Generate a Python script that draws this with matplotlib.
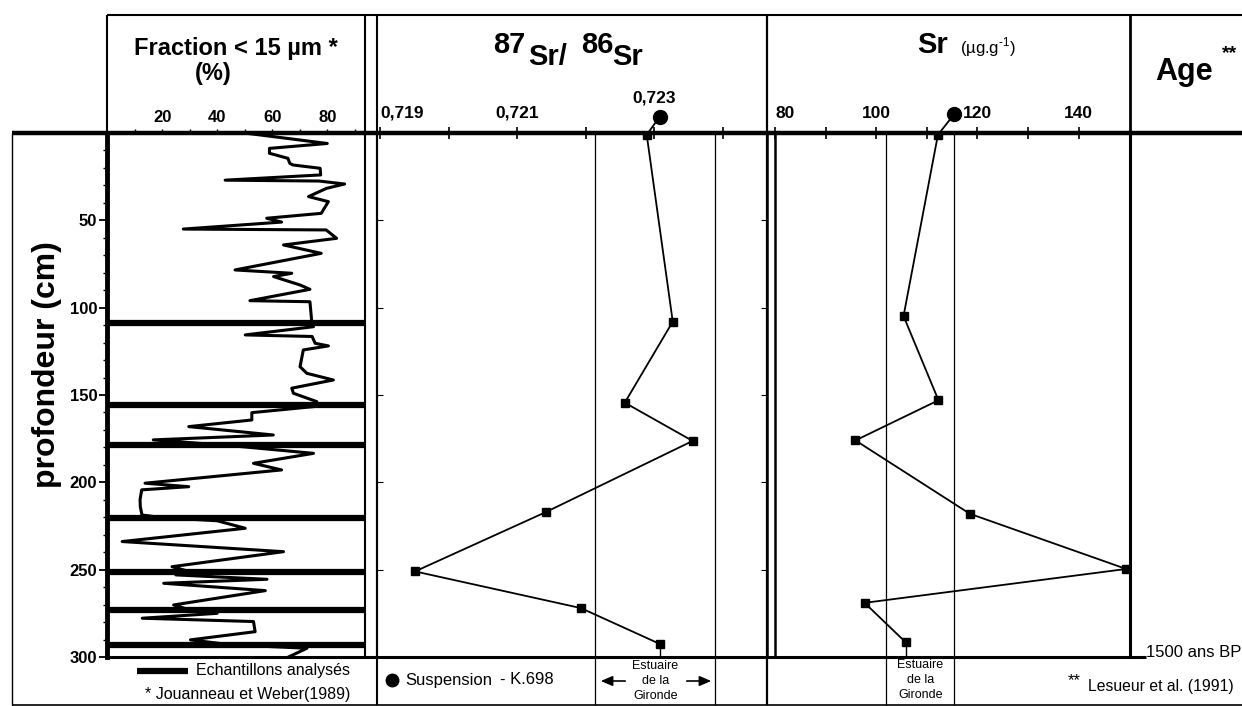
import matplotlib
matplotlib.use('Agg')
import matplotlib.pyplot as plt
from matplotlib.transforms import blended_transform_factory
import numpy as np

plt.rcParams['font.family'] = ['Liberation Sans', 'DejaVu Sans']
plt.rcParams['mathtext.fontset'] = 'custom'
plt.rcParams['mathtext.rm'] = 'Liberation Sans'

W, H = 1242, 706

# grain size profile, fraction < 15 um (%) vs depth (cm)
grain_depth = [0, 6, 8.8, 11.6, 14.5, 17.4, 18.3, 20.2, 24, 27, 27.5, 29.2, 31.7, 36.4,
               39.3, 46, 48.8, 51, 55, 55.5, 60.3, 64.1, 68.9, 78.4, 80.3, 82.2, 87,
               89.5, 96, 96.6, 107, 108.5, 110.9, 115.6, 116.5, 120.4, 121.9, 124.2,
               133.8, 137.6, 141.4, 146.1, 149, 153.8, 156.5, 160.1, 164.3, 168.1,
               172.9, 175.7, 179, 183.4, 189.1, 192.9, 200.5, 202.5, 204.3, 210,
               213.9, 218.7, 220.2, 222, 226.3, 233.9, 239.7, 248.3, 251.1, 253,
               255.5, 257.8, 262, 270.2, 273, 275, 277.8, 279.7, 285.5, 290.2, 293,
               295, 300]
grain_frac = [50, 80, 59, 59, 65.7, 66.4, 67.5, 77.4, 77.6, 42.9, 77, 86.3, 79.7, 73.2,
              80.4, 77.8, 58, 63.4, 27.7, 79.6, 83.4, 64.1, 77.8, 46.5, 67.1, 60.5, 70.1,
              73.7, 51.9, 73.7, 74.3, 74, 75.0, 50.2, 74.5, 75.6, 80.4, 71.3,
              70.1, 72.6, 82.2, 67.1, 67.7, 76.2, 76, 52.6, 52.6, 29.7,
              60.4, 16.8, 45, 75.0, 53.2, 63.4, 13.8, 29.7, 12.6, 12.0,
              12.1, 12.7, 20, 40, 50.2, 5.5, 64.1, 23.6, 30, 25,
              58.1, 20.6, 57.5, 24.2, 30, 40, 12.8, 53.2, 53.8, 30.3, 45,
              72.6, 65.9]

# analysed samples (thick lines)
sample_depth = [108.5, 155.7, 178.8, 220.2, 251.1, 273.0, 293.0]

# 87Sr/86Sr
ratio_depth = [1, 108, 154.4, 176.3, 217, 251, 272, 292.5]
ratio_val = [0.72289, 0.72327, 0.72257, 0.72356, 0.72142, 0.71951, 0.72193, 0.72308]
ratio_susp = [0.72308, -9.3]
ratio_estuary = [0.72214, 0.72389]

# Sr (ug/g)
sr_depth = [1, 104.8, 153, 176, 218, 249.6, 269, 291.5]
sr_val = [112.2, 105.4, 112.3, 95.9, 118.5, 149.4, 97.7, 105.8]
sr_susp = [115.4, -10.7]
sr_estuary = [102.0, 115.4]


def px_box(x0, y0, x1, y1):
    return [x0 / W, 1 - y1 / H, (x1 - x0) / W, (y1 - y0) / H]


fig = plt.figure(figsize=(W / 100, H / 100), dpi=100)

# background axes in pixel units for frame and free text
bg = fig.add_axes([0, 0, 1, 1])
bg.set_xlim(0, W)
bg.set_ylim(H, 0)
bg.axis('off')


def ln(x, y, lw=1.5):
    bg.plot(x, y, color='k', lw=lw, solid_capstyle='butt')


ln([107, 1242], [15, 15], 1.5)
ln([12, 1242], [133, 133], 3.2)
ln([12, 12], [133, 705], 1.0)
ln([12, 1242], [705, 705], 1.2)
ln([107, 1146], [657, 657], 2.2)
ln([107, 107], [15, 133], 1.5)
ln([365, 365], [15, 133], 1.5)
ln([377, 377], [15, 705], 1.5)
ln([767, 767], [15, 705], 1.6)
ln([1130, 1130], [15, 133], 2.0)

# ---- left panel: grain size
ax0 = fig.add_axes(px_box(107, 133, 365, 657))
ax0.patch.set_alpha(0)
ax0.plot(grain_frac, grain_depth, color='k', lw=2.2)
for d in sample_depth:
    ax0.axhline(d, color='k', lw=4.5)
ax0.set_xlim(0, 93.7)
ax0.set_ylim(300, 0)
ax0.xaxis.tick_top()
ax0.set_xticks(range(10, 100, 10), ['', '20', '', '40', '', '60', '', '80', ''],
               fontweight='bold', fontsize=12)
ax0.tick_params(axis='x', direction='out', length=3, width=1, pad=3)
ax0.set_yticks(range(50, 301, 50), [str(v) for v in range(50, 301, 50)],
               fontweight='bold', fontsize=12)
ax0.set_yticks(range(0, 301, 10), minor=True)
ax0.tick_params(axis='y', which='major', length=6, width=1.3, pad=1)
ax0.tick_params(axis='y', which='minor', length=3, width=1)
ax0.spines['left'].set_linewidth(3.5)
ax0.spines['right'].set_linewidth(1.5)
ax0.spines['top'].set_visible(False)
ax0.spines['bottom'].set_visible(False)

# ---- middle panel: 87Sr/86Sr
ax1 = fig.add_axes(px_box(377, 133, 767, 657))
ax1.patch.set_alpha(0)
tr1 = blended_transform_factory(ax1.transData, bg.transData)
ax1.vlines(ratio_estuary, 133, 705, transform=tr1, colors='k', lw=0.9, clip_on=False)
ax1.plot(ratio_val, ratio_depth, '-s', color='k', lw=1.3, ms=5.5)
ax1.plot([ratio_val[-1]] * 2, [ratio_depth[-1], 300], color='k', lw=1)
ax1.plot([ratio_susp[0], ratio_val[0]], [ratio_susp[1], ratio_depth[0]],
         color='k', lw=1.3, clip_on=False)
ax1.plot(ratio_susp[0], ratio_susp[1], 'o', color='k', ms=10, clip_on=False)
ax1.set_xlim(0.718955, 0.724645)
ax1.set_ylim(300, 0)
ax1.xaxis.tick_top()
ax1.set_xticks([0.719, 0.720, 0.721, 0.722, 0.723, 0.724],
               ['0,719', '', '0,721', '', '', ''], fontweight='bold', fontsize=12.5)
ax1.xaxis.get_major_ticks()[0].label2.set_horizontalalignment('left')
ax1.tick_params(axis='x', direction='inout', length=8, width=1.2, pad=5)
ax1.text(0.723, 98, '0,723', transform=tr1, ha='center', va='center',
         fontsize=12.5, fontweight='bold')
ax1.yaxis.set_ticks_position('both')
ax1.set_yticks(range(50, 251, 50))
ax1.tick_params(axis='y', direction='in', length=4, labelleft=False, labelright=False)
ax1.spines['left'].set_linewidth(1.5)
ax1.spines['right'].set_linewidth(1.8)
ax1.spines['top'].set_visible(False)
ax1.spines['bottom'].set_visible(False)

# ---- right panel: Sr
ax2 = fig.add_axes(px_box(775, 133, 1130, 657))
ax2.patch.set_alpha(0)
tr2 = blended_transform_factory(ax2.transData, bg.transData)
ax2.vlines(sr_estuary, 133, 705, transform=tr2, colors='k', lw=0.9, clip_on=False)
ax2.plot(sr_val, sr_depth, '-s', color='k', lw=1.3, ms=5.5)
ax2.plot([sr_val[-1]] * 2, [sr_depth[-1], 300], color='k', lw=1)
ax2.plot([sr_susp[0], sr_val[0]], [sr_susp[1], sr_depth[0]],
         color='k', lw=1.3, clip_on=False)
ax2.plot(sr_susp[0], sr_susp[1], 'o', color='k', ms=10, clip_on=False)
ax2.set_xlim(80, 150.15)
ax2.set_ylim(300, 0)
ax2.xaxis.tick_top()
ax2.set_xticks(range(80, 141, 10), ['80', '', '100', '', '120', '', '140'],
               fontweight='bold', fontsize=12.5)
ax2.xaxis.get_major_ticks()[0].label2.set_horizontalalignment('left')
ax2.tick_params(axis='x', direction='inout', length=8, width=1.2, pad=5)
ax2.set_yticks([])
ax2.spines['left'].set_linewidth(1.8)
ax2.spines['right'].set_linewidth(2.2)
ax2.spines['top'].set_visible(False)
ax2.spines['bottom'].set_visible(False)

# ---- header texts
bg.text(236, 55, 'Fraction < 15 µm *', ha='center', va='baseline',
        fontsize=17, fontweight='bold')
bg.text(213, 80, '(%)', ha='center', va='baseline', fontsize=17, fontweight='bold')
for s, x, y in [('87', 493, 53), ('Sr/', 528, 65), ('86', 581, 53), ('Sr', 612, 65)]:
    bg.text(x, y, s, ha='left', va='baseline', fontsize=21, fontweight='bold')
bg.text(917, 53, 'Sr', ha='left', va='baseline', fontsize=21, fontweight='bold')
bg.text(960, 53, r'(µg.g$^{\text{-1}}$)', ha='left', va='baseline', fontsize=12)
bg.text(1155, 80, 'Age', ha='left', va='baseline', fontsize=22, fontweight='bold')
bg.text(1222, 58, '**', ha='left', va='baseline', fontsize=14, fontweight='bold')
bg.text(47, 365, 'profondeur (cm)', rotation=90, ha='center', va='center',
        fontsize=23, fontweight='bold')

# ---- bottom legend row
ln([137, 188], [671, 671], 4.5)
bg.text(196, 671, 'Echantillons analysés', ha='left', va='center', fontsize=11.5)
bg.text(145, 694, '* Jouanneau et Weber(1989)', ha='left', va='center', fontsize=11.5)
bg.plot(392, 680, 'o', color='k', ms=9)
bg.text(405, 680, 'Suspension', ha='left', va='center', fontsize=12)
bg.text(500, 680, '- K.698', ha='left', va='center', fontsize=12)

mid = np.mean(ratio_estuary)
for s, y in [('Estuaire', 666), ('de la', 681), ('Gironde', 696)]:
    ax1.text(mid, y, s, transform=tr1, ha='center', va='center', fontsize=9)
arrow = dict(arrowstyle='-|>,head_length=0.7,head_width=0.3', color='k', lw=1.2)
bg.annotate('', xy=(598, 681), xytext=(628, 681), arrowprops=arrow)
bg.annotate('', xy=(714, 681), xytext=(684, 681), arrowprops=arrow)

mid2 = np.mean(sr_estuary)
for s, y in [('Estuaire', 665), ('de la', 680), ('Gironde', 695)]:
    ax2.text(mid2, y, s, transform=tr2, ha='center', va='center', fontsize=9)

bg.text(1146, 657, '1500 ans BP', ha='left', va='baseline', fontsize=12)
bg.text(1068, 681, '**', ha='left', va='center', fontsize=12)
bg.text(1088, 687, 'Lesueur et al. (1991)', ha='left', va='center', fontsize=11.3)

plt.savefig('out.png', dpi=100)
